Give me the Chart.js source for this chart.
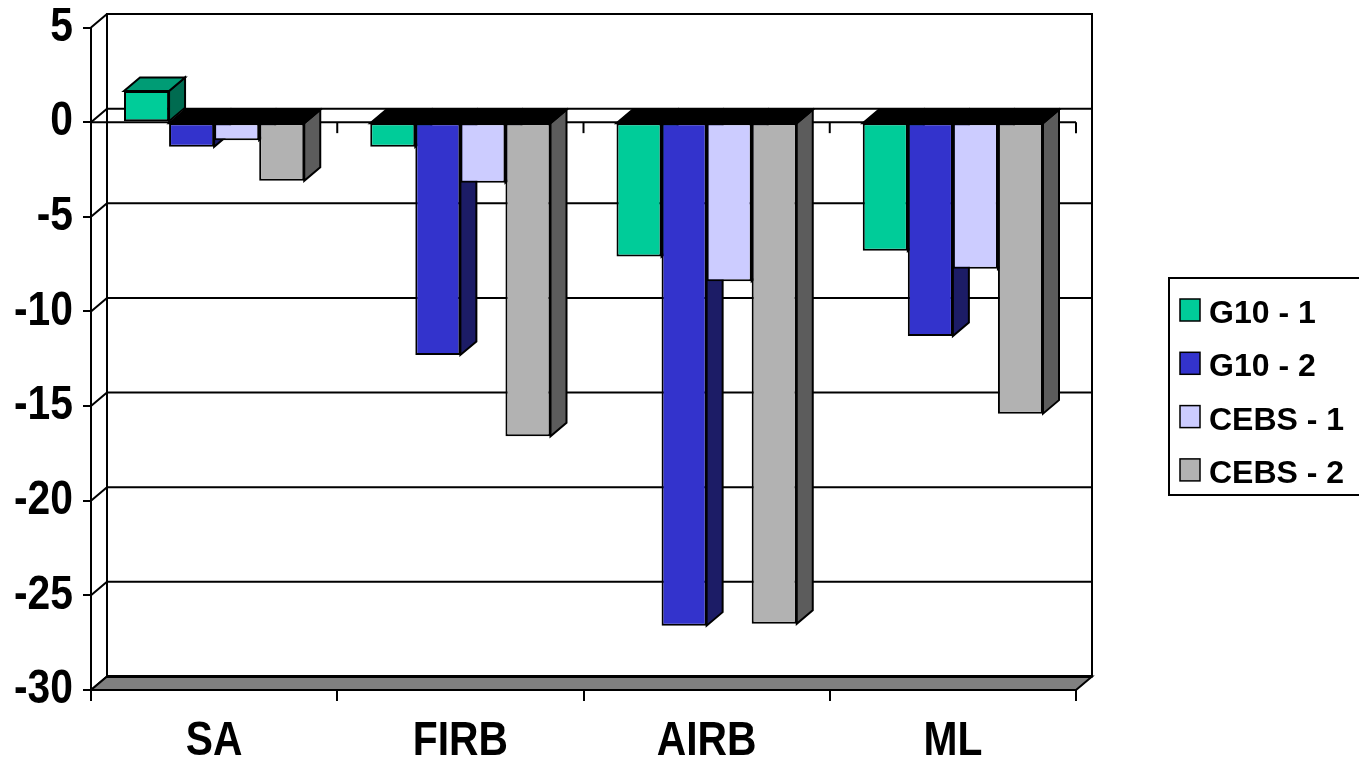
<!DOCTYPE html>
<html>
<head>
<meta charset="utf-8">
<script src="https://cdn.jsdelivr.net/npm/chart.js@4.4.1/dist/chart.umd.min.js"></script>
<style>
  html, body { margin: 0; padding: 0; background: #ffffff; }
  #wrap { position: relative; width: 1359px; height: 763px; }
</style>
</head>
<body>
<div id="wrap"><canvas id="c"></canvas></div>
<script>
// ---- data ----
const categories = ['SA', 'FIRB', 'AIRB', 'ML'];
const seriesNames = ['G10 - 1', 'G10 - 2', 'CEBS - 1', 'CEBS - 2'];
const g10_1  = [1.65, -1.3, -7.1, -6.8];
const g10_2  = [-1.3, -12.3, -26.6, -11.3];
const cebs_1 = [-0.95, -3.2, -8.4, -7.75];
const cebs_2 = [-3.1, -16.6, -26.5, -15.4];
const yMin = -30, yMax = 5, yStep = 5;

// ---- styles ----
const frontColors = ['#00CC99', '#3333CC', '#CCCCFF', '#B2B2B2'];
const sideColors  = ['#006B50', '#1C1C66', '#6B6B87', '#5C5C5C'];
const topColors   = ['#009C75', '#000000', '#000000', '#000000'];
const DX = 16, DY = -13.5;
const FONT = "'Liberation Sans', Arial, sans-serif";
const AXIS_SIZE = 48;
const CONDENSE = 0.85;

const seriesValues = [g10_1, g10_2, cebs_1, cebs_2];

// axis labels of the reference use a condensed face: compress horizontally via fillText's maxWidth
const canvas = document.getElementById('c');
const ctx0 = canvas.getContext('2d');
const protoFill = CanvasRenderingContext2D.prototype.fillText;
ctx0.fillText = function (t, x, y, mw) {
  if (mw === undefined && this.font.indexOf(AXIS_SIZE + 'px') >= 0) {
    mw = this.measureText(t).width * CONDENSE;
  }
  return mw === undefined ? protoFill.call(this, t, x, y) : protoFill.call(this, t, x, y, mw);
};

function poly(ctx, pts, fill) {
  ctx.beginPath();
  ctx.moveTo(pts[0][0], pts[0][1]);
  for (let i = 1; i < pts.length; i++) ctx.lineTo(pts[i][0], pts[i][1]);
  ctx.closePath();
  if (fill) { ctx.fillStyle = fill; ctx.fill(); }
  ctx.stroke();
}

const box3d = {
  id: 'box3d',
  beforeDraw(chart) {
    const {ctx, chartArea: a, scales: {x, y}} = chart;
    const L = a.left, R = a.right, T = a.top, B = a.bottom;
    ctx.save();
    ctx.strokeStyle = '#000';
    ctx.lineWidth = 2;
    ctx.lineJoin = 'miter';
    // back wall
    ctx.fillStyle = '#fff';
    ctx.fillRect(L + DX, T + DY, R - L, B - T);
    ctx.strokeRect(L + DX, T + DY, R - L, B - T);
    // gridlines on back wall + left wall
    y.ticks.forEach(t => {
      const py = y.getPixelForValue(t.value);
      ctx.beginPath();
      ctx.moveTo(L, py); ctx.lineTo(L + DX, py + DY);
      ctx.lineTo(R + DX, py + DY);
      ctx.stroke();
    });
    // floor
    poly(ctx, [[L, B], [R, B], [R + DX, B + DY], [L + DX, B + DY]], '#808080');
    ctx.lineWidth = 3;
    ctx.beginPath(); ctx.moveTo(L + DX, B + DY); ctx.lineTo(R + DX, B + DY); ctx.stroke();
    ctx.lineWidth = 2;
    // front zero axis with ticks at category boundaries
    const y0 = y.getPixelForValue(0);
    ctx.beginPath(); ctx.moveTo(L, y0); ctx.lineTo(R, y0); ctx.stroke();
    const n = categories.length;
    const step = (x.getPixelForValue(n - 1) - x.getPixelForValue(0)) / (n - 1);
    for (let i = 1; i <= n; i++) {
      const bx = x.getPixelForValue(0) - step / 2 + i * step;
      ctx.beginPath(); ctx.moveTo(bx, y0); ctx.lineTo(bx, y0 + 11); ctx.stroke();
    }
    ctx.restore();
  },
  beforeDatasetDraw() { return false; },
  afterDatasetsDraw(chart) {
    const ctx = chart.ctx;
    const metas = chart.data.datasets.map((d, i) => chart.getDatasetMeta(i));
    ctx.save();
    ctx.strokeStyle = '#000';
    ctx.lineWidth = 2;
    ctx.lineJoin = 'miter';
    for (let c = 0; c < categories.length; c++) {
      metas.forEach((meta, di) => {
        const el = meta.data[c];
        if (!el) return;
        const p = el.getProps(['x', 'y', 'base', 'width'], true);
        const left = p.x - p.width / 2, right = p.x + p.width / 2;
        const top = Math.min(p.y, p.base), bottom = Math.max(p.y, p.base);
        const v = chart.data.datasets[di].data[c];
        // side face
        poly(ctx, [[right, top], [right + DX, top + DY], [right + DX, bottom + DY], [right, bottom]], sideColors[di]);
        // top face
        poly(ctx, [[left, top], [right, top], [right + DX, top + DY], [left + DX, top + DY]], v >= 0 ? topColors[di] : '#000');
        // front face (library element)
        el.draw(ctx, chart.chartArea);
      });
    }
    ctx.restore();
  },
  afterDraw(chart) {
    const ctx = chart.ctx;
    ctx.save();
    // legend box
    ctx.fillStyle = '#fff';
    ctx.strokeStyle = '#000';
    ctx.lineWidth = 2;
    ctx.fillRect(1169, 278, 200, 217);
    ctx.strokeRect(1169, 278, 200, 217);
    ctx.font = "bold 32px " + FONT;
    ctx.textBaseline = 'alphabetic';
    ctx.textAlign = 'left';
    chart.data.datasets.forEach((ds, i) => {
      const rowY = 299 + i * 53.3;
      ctx.fillStyle = ds.backgroundColor;
      ctx.fillRect(1180, rowY, 20, 22);
      ctx.lineWidth = 1.5;
      ctx.strokeRect(1180, rowY, 20, 22);
      ctx.fillStyle = '#000';
      ctx.fillText(ds.label, 1209, rowY + 24);
    });
    ctx.restore();
  }
};

const datasets = seriesNames.map((name, i) => ({
  label: name,
  data: seriesValues[i],
  backgroundColor: frontColors[i],
  borderColor: '#000',
  borderWidth: 2,
  borderSkipped: false,
  categoryPercentage: 0.732,
  barPercentage: 1.0
}));

new Chart(canvas, {
  type: 'bar',
  data: { labels: categories, datasets },
  options: {
    responsive: true,
    maintainAspectRatio: false,
    animation: false,
    layout: { padding: { top: 27.5, right: 283, left: 0, bottom: 0 } },
    plugins: { legend: { display: false }, tooltip: { enabled: false } },
    scales: {
      x: {
        grid: { display: true, drawOnChartArea: false, drawTicks: true, tickLength: 11, color: '#000', lineWidth: 2, offset: true },
        border: { display: true, color: '#000', width: 2 },
        ticks: { color: '#000', padding: 12, font: { family: FONT, weight: 'bold', size: AXIS_SIZE, lineHeight: 1.2 } },
        afterFit(s) { s.height = 73; s.paddingLeft = 0; s.paddingRight = 0; }
      },
      y: {
        min: yMin, max: yMax,
        grid: { display: true, drawOnChartArea: false, drawTicks: true, tickLength: 8, color: '#000', lineWidth: 2 },
        border: { display: true, color: '#000', width: 2 },
        ticks: { stepSize: yStep, color: '#000', padding: 10, font: { family: FONT, weight: 'bold', size: AXIS_SIZE, lineHeight: 1.0 } },
        afterFit(s) { s.width = 91; s.paddingTop = 0; s.paddingBottom = 0; }
      }
    }
  },
  plugins: [box3d]
});
</script>
</body>
</html>
